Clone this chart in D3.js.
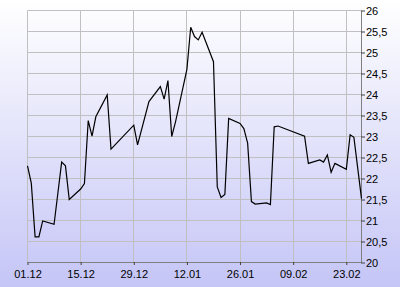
<!DOCTYPE html>
<html>
<head>
<meta charset="utf-8">
<script src="https://cdn.jsdelivr.net/npm/d3@7"></script>
<style>
    body { margin: 0; }
    svg { display: block; font-family: "Liberation Sans", Arial, sans-serif; }
</style>
</head>
<body>
<svg id="chart"></svg>
<script>
// trading days and closing prices
const dates = [
    "2008-12-01", "2008-12-02", "2008-12-03", "2008-12-04", "2008-12-05",
    "2008-12-08", "2008-12-09", "2008-12-10", "2008-12-11", "2008-12-12",
    "2008-12-15", "2008-12-16", "2008-12-17", "2008-12-18", "2008-12-19",
    "2008-12-22", "2008-12-23", "2008-12-29", "2008-12-30", "2009-01-02",
    "2009-01-05", "2009-01-06", "2009-01-07", "2009-01-08", "2009-01-09",
    "2009-01-12", "2009-01-13", "2009-01-14", "2009-01-15", "2009-01-16",
    "2009-01-19", "2009-01-20", "2009-01-21", "2009-01-22", "2009-01-23",
    "2009-01-26", "2009-01-27", "2009-01-28", "2009-01-29", "2009-01-30",
    "2009-02-02", "2009-02-03", "2009-02-04", "2009-02-05", "2009-02-12",
    "2009-02-13", "2009-02-16", "2009-02-17", "2009-02-18", "2009-02-19",
    "2009-02-20", "2009-02-23", "2009-02-24", "2009-02-25", "2009-02-27"
];
const prices = [
    22.30, 21.89, 20.61, 20.61, 20.99,
    20.91, 21.65, 22.39, 22.30, 21.50,
    21.75, 21.88, 23.38, 23.01, 23.47,
    23.99, 22.70, 23.27, 22.80, 23.83,
    24.19, 23.89, 24.33, 23.00, 23.35,
    24.60, 25.60, 25.38, 25.30, 25.48,
    24.78, 21.80, 21.55, 21.62, 23.43,
    23.31, 23.19, 22.84, 21.45, 21.39,
    21.42, 21.38, 23.23, 23.25, 23.01,
    22.36, 22.44, 22.39, 22.56, 22.15,
    22.36, 22.22, 23.04, 22.98, 21.52
];
const xTicks = ["2008-12-01", "2008-12-15", "2008-12-29", "2009-01-12", "2009-01-26", "2009-02-09", "2009-02-23"];
const yTicks = [20, 20.5, 21, 21.5, 22, 22.5, 23, 23.5, 24, 24.5, 25, 25.5, 26];
const xDomain = ["2008-12-01", "2009-02-27"];
const yDomain = [20, 26];

const width = 400, height = 287;
const parse = d3.utcParse("%Y-%m-%d");
const data = dates.map((d, i) => ({ date: parse(d), price: prices[i] }));

const svg = d3.select("#chart").attr("width", width).attr("height", height);

let grad = svg.append("defs").append("linearGradient")
    .attr("id", "bg")
    .attr("x1", 0).attr("y1", 0).attr("x2", 0).attr("y2", 1);
grad.append("stop").attr("offset", "0%").attr("stop-color", "#ffffff");
grad.append("stop").attr("offset", "100%").attr("stop-color", "#c5c5f7");

svg.append("rect")
    .attr("width", width)
    .attr("height", height)
    .attr("fill", "url(#bg)");

const xScale = d3.scaleUtc()
    .domain(xDomain.map(parse))
    .range([27.5, 361.5]);

const yScale = d3.scaleLinear()
    .domain(yDomain)
    .range([262.5, 10.5]);

// grid
svg.append("g").selectAll("line")
    .data(yTicks)
    .join("line")
    .attr("x1", xScale.range()[0]).attr("x2", xScale.range()[1])
    .attr("y1", d => yScale(d)).attr("y2", d => yScale(d))
    .attr("stroke", "#c0c0c0");

svg.append("g").selectAll("line")
    .data(xTicks.map(parse))
    .join("line")
    .attr("x1", d => Math.floor(xScale(d)) + 0.5).attr("x2", d => Math.floor(xScale(d)) + 0.5)
    .attr("y1", yScale.range()[1]).attr("y2", yScale.range()[0])
    .attr("stroke", "#c0c0c0");

const fmtNum = d => String(d).replace(".", ",");

const xAxis = d3.axisBottom(xScale)
    .tickValues(xTicks.map(parse))
    .tickFormat(d3.utcFormat("%d.%m"))
    .tickSize(3)
    .tickPadding(5)
    .tickSizeOuter(0);

const yAxis = d3.axisRight(yScale)
    .tickValues(yTicks)
    .tickFormat(fmtNum)
    .tickSize(4)
    .tickPadding(1)
    .tickSizeOuter(0);

svg.append("g")
    .attr("transform", `translate(0,${yScale.range()[0] - 0.5})`)
    .call(xAxis)
    .call(g => g.select(".domain").attr("stroke", "#808080"))
    .call(g => g.selectAll(".tick line").attr("stroke", "#404040"))
    .call(g => g.selectAll("text")
        .attr("font-family", "'Liberation Sans', Arial, sans-serif")
        .attr("font-size", 11)
        .attr("fill", "#000"));

svg.append("g")
    .attr("transform", `translate(${xScale.range()[1] - 0.5},0)`)
    .call(yAxis)
    .call(g => g.select(".domain").attr("stroke", "#808080"))
    .call(g => g.selectAll(".tick line").attr("stroke", "#404040"))
    .call(g => g.selectAll("text")
        .attr("font-family", "'Liberation Sans', Arial, sans-serif")
        .attr("font-size", 11)
        .attr("fill", "#000"));

const line = d3.line()
    .x(d => xScale(d.date))
    .y(d => yScale(d.price));

svg.append("path")
    .datum(data)
    .attr("d", line)
    .attr("fill", "none")
    .attr("stroke", "#000")
    .attr("stroke-width", 1.2);
</script>
</body>
</html>
